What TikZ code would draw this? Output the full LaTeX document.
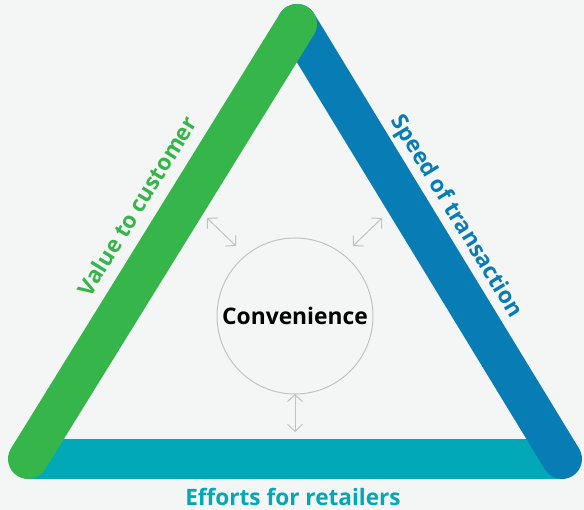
\documentclass[tikz,border=0pt]{standalone}
\usepackage{fontspec}
\setmainfont{Open Sans}
\usetikzlibrary{arrows.meta}
\definecolor{bg}{HTML}{F4F6F5}
\definecolor{cgreen}{HTML}{36B54A}
\definecolor{cblue}{HTML}{087DB5}
\definecolor{cteal}{HTML}{00A8B8}
\definecolor{cgray}{HTML}{C2C2C2}
\begin{document}
\begin{tikzpicture}[x=1pt,y=-1pt,
  bar/.style={line width=40pt},
  lbl/.style={font=\fontsize{22.6}{26}\selectfont\bfseries, inner sep=0pt},
  dbl/.style={draw=cgray, line width=1pt, {Straight Barb[length=7pt,width=15pt]}-{Straight Barb[length=7pt,width=15pt]}}]
\fill[bg] (0,0) rectangle (584,510);
\useasboundingbox (0,0) rectangle (584,510);
\coordinate (top) at (297,24);
\coordinate (bl) at (28,459);
\coordinate (br) at (562,459);
\draw[bar, cteal] (bl) -- (br);
\draw[bar, cblue, line cap=round] (top) -- (br);
\draw[bar, cgreen, line cap=round] (top) -- (bl);
\node[lbl, text=cgreen, rotate=58.3] (v) at (137,206) {Value to customer};
\node[lbl, text=cblue, rotate=-58.6] (s) at (456,217) {Speed of transaction};
\node[lbl, text=cteal] (e) at (293,497) {Efforts for retailers};
\node[circle, draw=cgray, line width=1pt, minimum size=156pt, inner sep=0pt,
      font=\fontsize{22.8}{26}\selectfont\bfseries] (c) at (295,316) {Convenience};
\coordinate (a1s) at (207,218); \coordinate (a1e) at (236,246);
\coordinate (a2s) at (382,218); \coordinate (a2e) at (353,246);
\coordinate (a3s) at (295,394); \coordinate (a3e) at (295,432);
\draw[dbl] (a1s) -- (a1e);
\draw[dbl] (a2s) -- (a2e);
\draw[dbl] (a3s) -- (a3e);
\end{tikzpicture}
\end{document}
